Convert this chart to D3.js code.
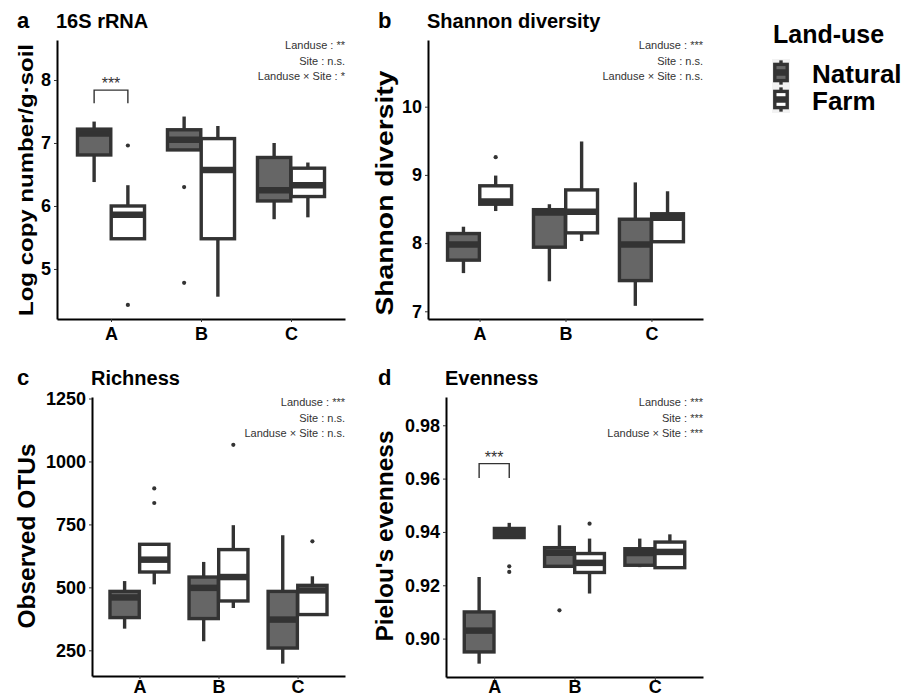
<!DOCTYPE html>
<html>
<head>
<meta charset="utf-8">
<script src="https://cdn.jsdelivr.net/npm/d3@7"></script>
<style>
  body { margin: 0; background: #fff; }
  svg { display: block; font-family: "Liberation Sans", Arial, sans-serif; }
</style>
</head>
<body>
<div id="chart"></div>
<script>
// categories
const sites = ["A", "B", "C"];
const landuse = ["Natural", "Farm"];

// box stats per site: [lower whisker, Q1, median, Q3, upper whisker]
const rrnaNatural = [[6.38, 6.81, 7.15, 7.22, 7.34], [6.89, 6.89, 7.05, 7.21, 7.42], [5.79, 6.08, 6.25, 6.77, 7.00]];
const rrnaFarm    = [[5.48, 5.48, 5.86, 6.00, 6.33], [4.56, 5.48, 6.57, 7.07, 7.27], [5.82, 6.15, 6.33, 6.60, 6.69]];
const rrnaOutNatural = [[], [6.30, 4.78], []];
const rrnaOutFarm    = [[6.96, 4.43], [], []];

const shannonNatural = [[7.56, 7.75, 7.98, 8.14, 8.24], [7.44, 7.94, 8.45, 8.49, 8.57], [7.08, 7.45, 7.98, 8.35, 8.89]];
const shannonFarm    = [[8.47, 8.57, 8.61, 8.84, 8.99], [8.03, 8.15, 8.46, 8.78, 9.49], [8.02, 8.02, 8.37, 8.43, 8.76]];
const shannonOutNatural = [[], [], []];
const shannonOutFarm    = [[9.26], [], []];

const richNatural = [[336, 380, 460, 484, 525], [286, 376, 498, 541, 601], [197, 259, 372, 484, 707]];
const richFarm    = [[512, 561, 610, 671, 671], [418, 446, 541, 650, 747], [392, 392, 488, 508, 544]];
const richOutNatural = [[], [], []];
const richOutFarm    = [[893, 835], [1066], [683]];

const evenNatural = [[0.8906, 0.8950, 0.9030, 0.9100, 0.9231], [0.9271, 0.9271, 0.9322, 0.9341, 0.9425], [0.9268, 0.9275, 0.9321, 0.9337, 0.9375]];
const evenFarm    = [[0.9379, 0.9379, 0.9395, 0.9413, 0.9434], [0.9169, 0.9248, 0.9284, 0.9319, 0.9375], [0.9263, 0.9266, 0.9325, 0.9362, 0.9391]];
const evenOutNatural = [[], [0.9106], []];
const evenOutFarm    = [[0.9271, 0.9250], [0.9431], []];

// tick labels
const rrnaTicks = [5, 6, 7, 8];
const shannonTicks = [7, 8, 9, 10];
const richTicks = [250, 500, 750, 1000, 1250];
const evenTicks = [0.90, 0.92, 0.94, 0.96, 0.98];

// statistics text
const rrnaStats = ["Landuse : **", "Site : n.s.", "Landuse \u00d7 Site : *"];
const shannonStats = ["Landuse : ***", "Site : n.s.", "Landuse \u00d7 Site : n.s."];
const richStats = ["Landuse : ***", "Site : n.s.", "Landuse \u00d7 Site : n.s."];
const evenStats = ["Landuse : ***", "Site : ***", "Landuse \u00d7 Site : ***"];

// significance brackets: [site, top value, leg value, label]
const rrnaSig = ["A", 7.84, 7.63, "***"];
const evenSig = ["A", 0.9656, 0.9602, "***"];

const W = 912, H = 696;
const fills = { Natural: "#666666", Farm: "#ffffff" };
const dark = "#333333";

const svg = d3.select("#chart").append("svg")
    .attr("width", W)
    .attr("height", H);

const panels = [
    { letter: "a", title: "16S rRNA", ylab: "Log copy number/g\u00b7soil", ylabX: 33, ylabY: 180, ylabLen: 272, ylabSize: 21,
      left: 57, right: 345, top: 40, bottom: 319, domain: [4.206, 8.635], ticks: rrnaTicks, fmt: d3.format("d"),
      nat: rrnaNatural, farm: rrnaFarm, outNat: rrnaOutNatural, outFarm: rrnaOutFarm, stats: rrnaStats, sig: rrnaSig, letterX: 17, xpad: 5 },
    { letter: "b", title: "Shannon diversity", ylab: "Shannon diversity", ylabX: 393, ylabY: 193, ylabLen: 245, ylabSize: 23,
      left: 428, right: 703, top: 40, bottom: 319, domain: [6.887, 10.978], ticks: shannonTicks, fmt: d3.format("d"),
      nat: shannonNatural, farm: shannonFarm, outNat: shannonOutNatural, outFarm: shannonOutFarm, stats: shannonStats, sig: null, letterX: 378, xpad: 5 },
    { letter: "c", title: "Richness", ylab: "Observed OTUs", ylabX: 35, ylabY: 536, ylabLen: 185, ylabSize: 24,
      left: 92, right: 345, top: 397, bottom: 676, domain: [148, 1256], ticks: richTicks, fmt: d3.format("d"),
      nat: richNatural, farm: richFarm, outNat: richOutNatural, outFarm: richOutFarm, stats: richStats, sig: null, letterX: 17, xpad: 1 },
    { letter: "d", title: "Evenness", ylab: "Pielou's evenness", ylabX: 393, ylabY: 536, ylabLen: 211, ylabSize: 24,
      left: 446, right: 703, top: 397, bottom: 677, domain: [0.8856, 0.9906], ticks: evenTicks, fmt: d3.format(".2f"),
      nat: evenNatural, farm: evenFarm, outNat: evenOutNatural, outFarm: evenOutFarm, stats: evenStats, sig: evenSig, letterX: 378, xpad: 0 }
];

function drawBox(g, cx, hw, s, fill, y) {
    // whiskers
    g.append("line").attr("x1", cx).attr("x2", cx).attr("y1", y(s[3])).attr("y2", y(s[4]))
        .attr("stroke", dark).attr("stroke-width", 3.4);
    g.append("line").attr("x1", cx).attr("x2", cx).attr("y1", y(s[1])).attr("y2", y(s[0]))
        .attr("stroke", dark).attr("stroke-width", 3.4);
    // box
    g.append("rect")
        .attr("x", cx - hw).attr("width", hw * 2)
        .attr("y", y(s[3])).attr("height", y(s[1]) - y(s[3]))
        .attr("fill", fill).attr("stroke", dark).attr("stroke-width", 3.4);
    // median
    g.append("line").attr("x1", cx - hw).attr("x2", cx + hw).attr("y1", y(s[2])).attr("y2", y(s[2]))
        .attr("stroke", dark).attr("stroke-width", 6.5);
}

function drawPanel(p) {
    var x = d3.scalePoint().domain(sites).range([p.left, p.right]).padding(0.6);
    var unit = x.step();
    var y = d3.scaleLinear().domain(p.domain).range([p.bottom, p.top]);
    var g = svg.append("g");

    // boxes
    var hw = 0.185 * unit;
    sites.forEach(function(site, i) {
        var groups = [[p.nat[i], p.outNat[i], "Natural", -1], [p.farm[i], p.outFarm[i], "Farm", 1]];
        groups.forEach(function(gr) {
            var cx = x(site) + gr[3] * 0.1875 * unit;
            drawBox(g, cx, hw, gr[0], fills[gr[2]], y);
            g.selectAll(null).data(gr[1]).enter().append("circle")
                .attr("cx", cx).attr("cy", function(d) { return y(d); })
                .attr("r", 2.1).attr("fill", dark);
        });
    });

    // axes
    var xa = svg.append("g")
        .attr("transform", "translate(0," + p.bottom + ")")
        .call(d3.axisBottom(x).tickSize(3).tickSizeOuter(0).tickPadding(p.xpad));
    var ya = svg.append("g")
        .attr("transform", "translate(" + p.left + ",0)")
        .call(d3.axisLeft(y).tickValues(p.ticks).tickFormat(p.fmt).tickSize(3).tickSizeOuter(0).tickPadding(3));
    [xa, ya].forEach(function(a) {
        a.select(".domain").attr("stroke", "#000").attr("stroke-width", 2);
        a.selectAll(".tick line").attr("stroke", dark).attr("stroke-width", 1);
        a.selectAll(".tick text").attr("fill", "#000").style("font-size", "18px").style("font-weight", "bold")
            .style("font-family", "'Liberation Sans', Arial, sans-serif");
    });

    // titles
    svg.append("text").attr("x", p.letterX).attr("y", p.top - 12)
        .style("font-size", "22px").style("font-weight", "bold").text(p.letter);
    svg.append("text").attr("x", p.left - 1).attr("y", p.top - 12)
        .style("font-size", "20px").style("font-weight", "bold").text(p.title);
    svg.append("text")
        .attr("transform", "translate(" + p.ylabX + "," + p.ylabY + ") rotate(-90)")
        .attr("text-anchor", "middle")
        .attr("textLength", p.ylabLen).attr("lengthAdjust", "spacingAndGlyphs")
        .style("font-size", p.ylabSize + "px").style("font-weight", "bold").text(p.ylab);

    // statistics
    svg.selectAll(null).data(p.stats).enter().append("text")
        .attr("x", p.right)
        .attr("y", function(d, i) { return p.top + 9 + i * 15.7; })
        .attr("text-anchor", "end")
        .attr("fill", dark)
        .style("font-size", "11px")
        .text(function(d) { return d; });

    // significance bracket
    if (p.sig) {
        var x1 = x(p.sig[0]) - 0.1875 * unit, x2 = x(p.sig[0]) + 0.1875 * unit;
        svg.append("path")
            .attr("d", "M" + x1 + "," + y(p.sig[2]) + "V" + y(p.sig[1]) + "H" + x2 + "V" + y(p.sig[2]))
            .attr("fill", "none").attr("stroke", dark).attr("stroke-width", 1.4);
        svg.append("text").attr("x", (x1 + x2) / 2).attr("y", y(p.sig[1]) - 1)
            .attr("text-anchor", "middle").attr("fill", dark)
            .style("font-size", "16px").text(p.sig[3]);
    }
}

panels.forEach(drawPanel);

// legend
var lg = svg.append("g");
lg.append("text").attr("x", 773).attr("y", 43)
    .style("font-size", "25px").style("font-weight", "bold").text("Land-use");
lg.append("rect").attr("x", 772).attr("y", 59).attr("width", 18).attr("height", 54).attr("fill", "#f2f2f2");
landuse.forEach(function(name, i) {
    var y0 = 59 + i * 27, kh = 27, cx = 781;
    var ky = d3.scaleLinear().domain([0, 1]).range([y0 + kh, y0]);
    drawBox(lg, cx, 6.2, [0.05, 0.2, 0.5, 0.8, 0.95], fills[name], ky);
    lg.append("text").attr("x", 812).attr("y", 82.5 + i * 27.5)
        .style("font-size", "26px").style("font-weight", "bold").text(name);
});
</script>
</body>
</html>
